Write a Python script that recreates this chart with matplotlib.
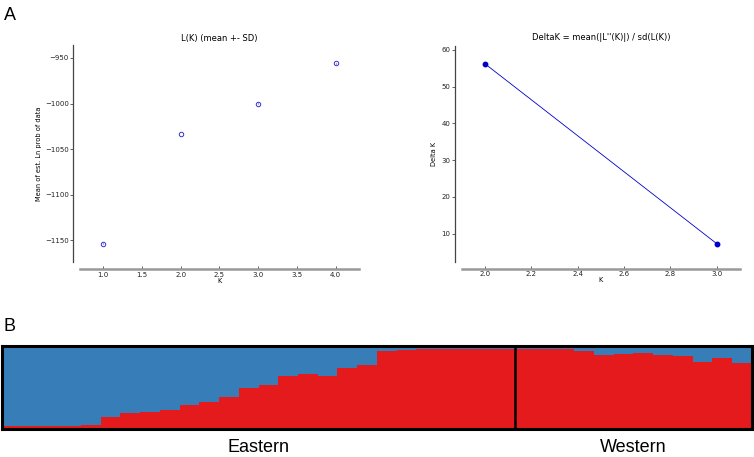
import numpy as np
import matplotlib
matplotlib.use("Agg")
import matplotlib.pyplot as plt

# panel A, left: L(K)
k_values = [1, 2, 3, 4]
mean_lnp = [-1153.7, -1033.3, -1000.2, -956.0]
sd_lnp = [0.4, 0.3, 0.3, 0.4]

# panel A, right: Delta K
dk_k = [2, 3]
delta_k = [56.2, 7.3]

# panel B: red cluster membership per individual
eastern_red = [0.03, 0.03, 0.035, 0.04, 0.045, 0.15, 0.19, 0.21, 0.23, 0.29,
               0.32, 0.38, 0.49, 0.53, 0.64, 0.66, 0.64, 0.74, 0.77, 0.94,
               0.95, 0.965, 0.965, 0.965, 0.965, 0.965]
western_red = [0.965, 0.965, 0.96, 0.94, 0.89, 0.90, 0.91, 0.89, 0.88,
               0.81, 0.85, 0.80]
group_names = ["Eastern", "Western"]

RED = "#e41a1c"
BLUE = "#377eb8"


def style_axes(ax):
    ax.spines['top'].set_visible(False)
    ax.spines['right'].set_visible(False)
    ax.spines['left'].set_position(('outward', 5))
    ax.spines['bottom'].set_position(('outward', 5))
    ax.spines['left'].set_color('#444444')
    ax.spines['left'].set_linewidth(0.9)
    ax.spines['bottom'].set_color('#999999')
    ax.spines['bottom'].set_linewidth(1.8)
    ax.tick_params(labelsize=5, width=0.5, colors='#222222',
                   top=False, right=False)
    ax.tick_params(axis='y', length=2, direction='out', pad=1)
    ax.tick_params(axis='x', length=2, direction='in', pad=2)
    ax.margins(0.1)


def plot_lk(fig):
    ax = fig.add_axes([0.1061, 0.4267, 0.370, 0.4748])
    ax.errorbar(k_values, mean_lnp, yerr=sd_lnp, fmt='o', mfc='none',
                mec='#3333cc', ecolor='#3333cc', ms=3.2, mew=0.7,
                elinewidth=0.6)
    style_axes(ax)
    ax.set_xticks(np.arange(1.0, 4.01, 0.5))
    ax.set_yticks([-1150, -1100, -1050, -1000, -950])
    ax.set_title("L(K) (mean +- SD)", fontsize=6, pad=3)
    ax.set_xlabel("K", fontsize=4.8, labelpad=0)
    ax.set_ylabel("Mean of est. Ln prob of data", fontsize=4.8, labelpad=2)


def plot_delta_k(fig):
    ax = fig.add_axes([0.6123, 0.4273, 0.3691, 0.4727])
    ax.plot(dk_k, delta_k, '-o', color='#0000cc', lw=0.6, ms=3.2)
    style_axes(ax)
    ax.set_xticks(np.arange(2.0, 3.01, 0.2))
    ax.set_yticks([10, 20, 30, 40, 50, 60])
    ax.set_title("DeltaK = mean(|L''(K)|) / sd(L(K))", fontsize=6, pad=4)
    ax.set_xlabel("K", fontsize=4.8, labelpad=0)
    ax.set_ylabel("Delta K", fontsize=4.8, labelpad=3)


def plot_structure(fig):
    ax = fig.add_axes([0.0027, 0.0613, 0.9943, 0.1816])
    red = np.array(eastern_red + western_red)
    x = np.arange(len(red))
    ax.bar(x, red, width=1.0, align='edge', color=RED, linewidth=0,
           antialiased=False)
    ax.bar(x, 1 - red, bottom=red, width=1.0, align='edge', color=BLUE,
           linewidth=0, antialiased=False)
    n_east = len(eastern_red)
    ax.axvline(n_east, color='black', lw=1.8)
    ax.set_xlim(0, len(red))
    ax.set_ylim(0, 1)
    ax.set_xticks([])
    ax.set_yticks([])
    for s in ax.spines.values():
        s.set_linewidth(2.2)
        s.set_color('black')
    centers = [n_east / 2, n_east + len(western_red) / 2]
    for c, name in zip(centers, group_names):
        ax.text(c, -0.12, name, ha='center', va='top', fontsize=13,
                family='Liberation Sans', transform=ax.get_xaxis_transform())


def main():
    fig = plt.figure(figsize=(7.54, 4.57), dpi=100)
    plot_lk(fig)
    plot_delta_k(fig)
    plot_structure(fig)
    fig.text(0.005, 0.965, "A", fontsize=13, family='Liberation Sans',
             va='center')
    fig.text(0.005, 0.285, "B", fontsize=13, family='Liberation Sans',
             va='center')
    fig.savefig("out.png", dpi=100)


main()
